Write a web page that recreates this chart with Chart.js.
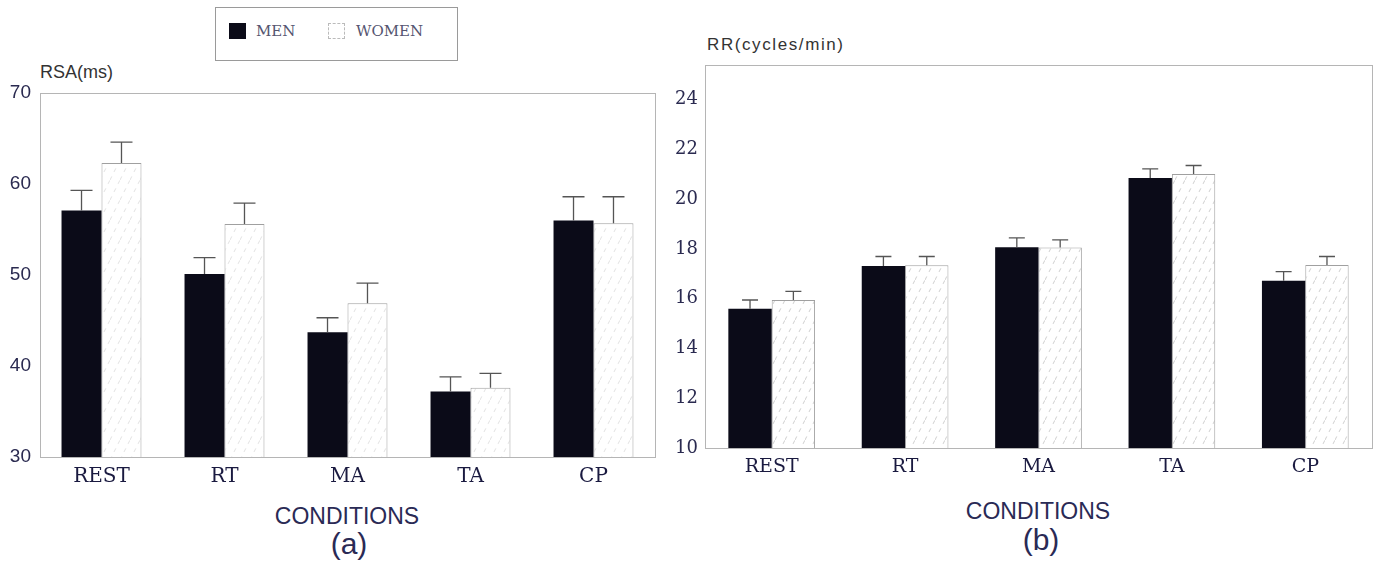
<!DOCTYPE html>
<html>
<head>
<meta charset="utf-8">
<script src="https://cdn.jsdelivr.net/npm/chart.js@4.4.0/dist/chart.umd.min.js"></script>
<style>
  body { margin: 0; background: #fff; width: 1380px; height: 565px; position: relative; overflow: hidden; }
  .box { position: absolute; }
  .txt { position: absolute; white-space: nowrap; color: #2a2a55; font-family: "Liberation Sans", Arial, sans-serif; }
  #legend { position: absolute; left: 215px; top: 7px; width: 241px; height: 52px; border: 1px solid #9a9a9a; }
  #legend .sw { position: absolute; top: 15px; width: 17px; height: 16px; }
  #legend span { position: absolute; top: 14px; font-family: "DejaVu Serif", serif; font-size: 15px; color: #555570; }
</style>
</head>
<body>

<div id="legend">
  <div class="sw" style="left:13px;background:#0b0b18;"></div>
  <span style="left:40px;">MEN</span>
  <div class="sw" style="left:112px;border:1px dashed #bbb;background:#fff;width:15px;height:14px;"></div>
  <span style="left:140px;">WOMEN</span>
</div>

<div class="txt" style="left:40px;top:62px;font-size:18px;color:#333;">RSA(ms)</div>
<div class="txt" style="left:707px;top:35px;font-size:17px;letter-spacing:1.6px;color:#333;">RR(cycles/min)</div>
<div class="txt" style="left:347px;top:503px;font-size:23px;transform:translateX(-50%);">CONDITIONS</div>
<div class="txt" style="left:349px;top:527px;font-size:30px;transform:translateX(-50%);">(a)</div>
<div class="txt" style="left:1038px;top:498px;font-size:23px;transform:translateX(-50%);">CONDITIONS</div>
<div class="txt" style="left:1041px;top:523px;font-size:30px;transform:translateX(-50%);">(b)</div>

<div class="box" style="left:0;top:0;"><canvas id="rsaChart" width="665" height="565"></canvas></div>
<div class="box" style="left:665px;top:0;"><canvas id="rrChart" width="715" height="565"></canvas></div>

<script>
/* ----------- Data ----------- */
const conditions = ['REST', 'RT', 'MA', 'TA', 'CP'];

const rsaMen = [57.1, 50.1, 43.7, 37.2, 56.0];
const rsaMenErr = [2.2, 1.8, 1.6, 1.6, 2.6];
const rsaWomen = [62.3, 55.6, 46.9, 37.6, 55.7];
const rsaWomenErr = [2.3, 2.3, 2.2, 1.6, 2.9];
const rsaTicks = [30, 40, 50, 60, 70];

const rrMen = [15.6, 17.32, 18.07, 20.86, 16.72];
const rrMenErr = [0.35, 0.38, 0.38, 0.36, 0.37];
const rrWomen = [15.95, 17.35, 18.06, 21.02, 17.36];
const rrWomenErr = [0.35, 0.35, 0.31, 0.34, 0.34];
const rrTicks = [10, 12, 14, 16, 18, 20, 22, 24];

/* ----------- Helpers ----------- */
function hatch(color){
    const c = document.createElement('canvas');
    c.width = 10; c.height = 20;
    const x = c.getContext('2d');
    x.fillStyle = '#fff';
    x.fillRect(0, 0, 10, 20);
    x.strokeStyle = color;
    x.lineWidth = 1;
    x.setLineDash([4, 5]);
    x.beginPath();
    x.moveTo(0, 20);
    x.lineTo(10, 0);
    x.stroke();
    return x.createPattern(c, 'repeat');
}

// error bars drawn upward from each bar top, values come from dataset.errors
const errorBars = {
    id: 'errorBars',
    afterDatasetsDraw(chart, args, opts){
        const ctx = chart.ctx;
        const y = chart.scales.y;
        ctx.save();
        ctx.strokeStyle = '#555';
        ctx.lineWidth = 1.3;
        chart.data.datasets.forEach((ds, i) => {
            chart.getDatasetMeta(i).data.forEach((bar, j) => {
                const top = y.getPixelForValue(ds.data[j] + ds.errors[j]);
                ctx.beginPath();
                ctx.moveTo(bar.x, bar.y);
                ctx.lineTo(bar.x, top);
                ctx.moveTo(bar.x - opts.cap / 2, top);
                ctx.lineTo(bar.x + opts.cap / 2, top);
                ctx.stroke();
            });
        });
        ctx.restore();
    }
};

// light frame round the plot area
const frame = {
    id: 'frame',
    beforeDatasetsDraw(chart){
        const a = chart.chartArea;
        const ctx = chart.ctx;
        ctx.save();
        ctx.strokeStyle = '#b5b5b5';
        ctx.lineWidth = 1;
        ctx.strokeRect(a.left + 0.5, a.top + 0.5, a.right - a.left, a.bottom - a.top);
        ctx.restore();
    }
};

function makeChart(id, men, menErr, women, womenErr, ticks, cfg){
    const ctx = document.getElementById(id).getContext('2d');
    return new Chart(ctx, {
        type: 'bar',
        data: {
            labels: conditions,
            datasets: [
                { label: 'MEN', data: men, errors: menErr, backgroundColor: '#0b0b18', borderWidth: 0,
                  barPercentage: 1, categoryPercentage: 0.65 },
                { label: 'WOMEN', data: women, errors: womenErr, backgroundColor: hatch(cfg.hatchColor),
                  borderColor: '#a0a0a0', borderWidth: 1, borderSkipped: 'bottom',
                  barPercentage: 1, categoryPercentage: 0.65 }
            ]
        },
        options: {
            responsive: false,
            animation: false,
            layout: { padding: { left: 0, right: cfg.padRight, top: cfg.padTop, bottom: 0 } },
            plugins: {
                legend: { display: false },
                tooltip: { enabled: false },
                errorBars: { cap: cfg.cap }
            },
            scales: {
                x: {
                    grid: { display: false, drawTicks: false },
                    border: { display: true, color: '#999' },
                    ticks: { color: '#1a1a40', padding: 8, font: { family: 'DejaVu Serif', size: cfg.xFont } },
                    afterFit: s => { s.height = cfg.xHeight; }
                },
                y: {
                    min: ticks[0],
                    max: cfg.yMax,
                    grid: { display: false, drawTicks: false },
                    border: { display: true, color: '#999' },
                    afterBuildTicks: s => { s.ticks = ticks.map(v => ({ value: v })); },
                    ticks: { color: '#2a2a50', padding: cfg.yPad, font: { family: cfg.yFamily, size: cfg.yFont } },
                    afterFit: s => { s.width = 40; }
                }
            }
        },
        plugins: [frame, errorBars]
    });
}

const rsaChart = makeChart('rsaChart', rsaMen, rsaMenErr, rsaWomen, rsaWomenErr, rsaTicks, {
    yMax: 70, padRight: 10, padTop: 93, xHeight: 108, xFont: 20, yFont: 19,
    yFamily: 'Liberation Sans', yPad: 9, cap: 22, hatchColor: '#e2e2e2'
});

const rrChart = makeChart('rrChart', rrMen, rrMenErr, rrWomen, rrWomenErr, rrTicks, {
    yMax: 25.4, padRight: 8, padTop: 65, xHeight: 117, xFont: 19, yFont: 18,
    yFamily: 'DejaVu Serif', yPad: 7, cap: 16, hatchColor: '#cfcfcf'
});
</script>
</body>
</html>
